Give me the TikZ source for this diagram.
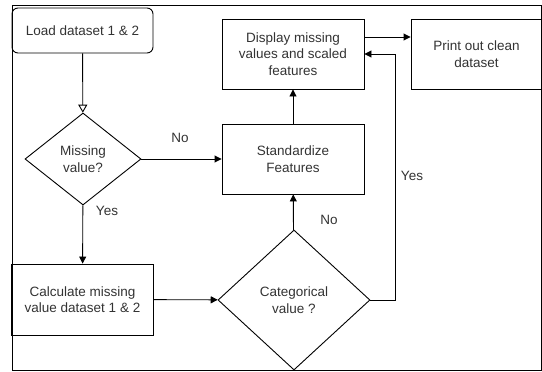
\documentclass[tikz,border=0pt]{standalone}
\usepackage{fontspec}
\setmainfont{Liberation Sans}
\usetikzlibrary{shapes.geometric,arrows.meta}
\definecolor{txt}{HTML}{333333}
\begin{document}
\begin{tikzpicture}[x=1pt,y=-1pt,
  every node/.style={font=\fontsize{13.5}{16.5}\selectfont, text=txt},
  proc/.style={draw, line width=0.9pt, minimum width=142pt, minimum height=70pt, align=center, inner sep=0pt},
  dec/.style={draw, line width=0.9pt, diamond, align=center, inner sep=0pt},
  conn/.style={line width=0.9pt, -{Triangle[length=7pt,width=7pt]}},
  lbl/.style={inner sep=0pt}]
\useasboundingbox (0,0) rectangle (542,372);
\draw[line width=0.9pt] (12,5) rectangle (541,370);
\node[proc, rounded corners=6pt, minimum width=141pt, minimum height=45pt] (load) at (82.5,30.5) {Load dataset 1 \& 2};
\node[dec, minimum width=116pt, minimum height=92pt] (miss) at (83,159) {Missing\\value?};
\node[proc, minimum height=71pt] (calc) at (82.5,299.5) {Calculate missing\\value dataset 1 \& 2};
\node[dec, minimum width=152pt, minimum height=140pt] (cat) at (294,300) {Categorical\\value ?};
\node[proc, minimum height=70pt] (std) at (293,159) {Standardize\\Features};
\node[proc, minimum height=70pt] (disp) at (293,54) {Display missing\\values and scaled\\features};
\node[proc, minimum width=131pt, minimum height=70pt] (print) at (476.5,54) {Print out clean\\dataset};
\coordinate (yesc) at (395,300);
\draw[line width=0.9pt, -{Triangle[open,length=8pt,width=9pt]}] (load) -- (miss);
\draw[conn] (miss) -- (std);
\draw[conn] (miss) -- (calc);
\draw[conn] (calc) -- (cat);
\draw[conn] (cat) -- (std);
\draw[conn] (std) -- (disp);
\draw[conn] (disp.east |- 0,37) -- (print.west |- 0,37);
\draw[conn] (cat.east) -- (yesc) |- (disp.east);
\node[lbl] (no1) at (180,138) {No};
\node[lbl] (yes1) at (107,211) {Yes};
\node[lbl] (no2) at (329,220) {No};
\node[lbl] (yes2) at (412,176) {Yes};
\end{tikzpicture}
\end{document}
